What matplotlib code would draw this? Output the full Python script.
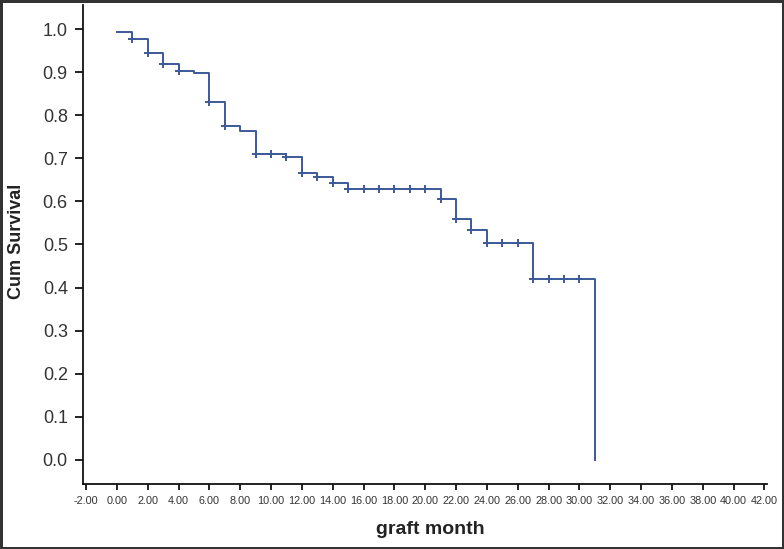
import numpy as np
import matplotlib
matplotlib.use("Agg")
import matplotlib.pyplot as plt

plt.rcParams['font.family'] = ['Liberation Sans', 'DejaVu Sans']

# Kaplan-Meier steps: time of each step and survival after it
event_month = [0, 1, 2, 3, 4, 5, 6, 7, 8, 9, 11, 12, 13, 14, 15, 21, 22, 23, 24, 27, 31]
cum_survival = [0.992, 0.976, 0.944, 0.919, 0.903, 0.897, 0.830, 0.776, 0.763, 0.711,
                0.704, 0.667, 0.656, 0.643, 0.629, 0.606, 0.559, 0.534, 0.504, 0.420, 0.0]

# censored cases (month)
censor_month = [1, 2, 3, 4, 6, 7, 9, 10, 11, 12, 13, 14, 15, 16, 17, 18, 19, 20,
                21, 22, 23, 24, 25, 26, 27, 28, 29, 30]

x_ticks = np.arange(-2, 43, 2)
y_ticks = np.arange(0, 1.01, 0.1)

line_color = '#3c5a99'

# survival level at each censored time
idx = np.searchsorted(event_month, censor_month, side='right') - 1
censor_surv = np.array(cum_survival)[idx]

fig = plt.figure(figsize=(7.84, 5.49), dpi=100, edgecolor='#333333', linewidth=2.5)
ax = fig.add_axes([0.106, 0.1184, 0.872, 0.8725])

ax.step(event_month, cum_survival, where='post', color=line_color, lw=1.4)
ax.plot(censor_month, censor_surv, ls='none', marker='+', ms=6, mew=1.4, color=line_color)

ax.set_xlim(-2.19, 42.15)
ax.set_ylim(-0.0557, 1.0557)
ax.set_xticks(x_ticks)
ax.set_xticklabels([f"{v:.2f}" for v in x_ticks])
ax.set_yticks(y_ticks)
ax.set_yticklabels([f"{v:.1f}" for v in y_ticks])

for side in ['top', 'right']:
    ax.spines[side].set_visible(False)
for side in ['left', 'bottom']:
    ax.spines[side].set_linewidth(1.3)
    ax.spines[side].set_color('#111111')

ax.tick_params(axis='y', length=6, width=1.3, pad=5, labelsize=13, colors='#111111', labelcolor='#333333')
ax.tick_params(axis='x', length=4, width=1.3, pad=5, labelsize=7.8, colors='#111111', labelcolor='#333333')

fig.text(17 / 784, 1 - 241 / 549, 'Cum Survival', rotation=90, ha='center', va='center',
         fontsize=13, fontweight='bold', color='#222222')
fig.text(430 / 784, 1 - 529 / 549, 'graft month', ha='center', va='center',
         fontsize=14, fontweight='bold', color='#222222')

fig.savefig('out.png', dpi=100, edgecolor=fig.get_edgecolor())
